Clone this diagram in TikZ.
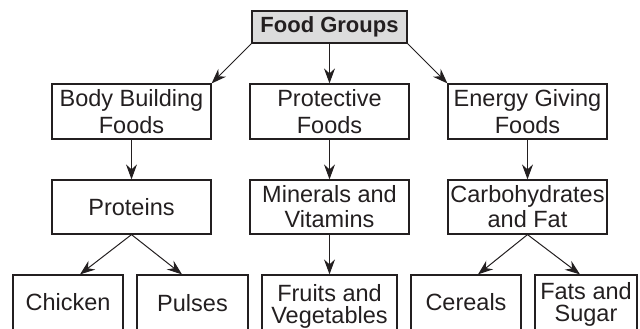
\documentclass[tikz,border=0pt]{standalone}
\usepackage{fontspec}
\setmainfont{Liberation Sans}
\usetikzlibrary{arrows.meta}
\definecolor{ink}{HTML}{231F20}
\definecolor{boxgray}{HTML}{DCDCDC}
\begin{document}
\begin{tikzpicture}[x=1pt,y=-1pt,
  box/.style={draw=ink, line width=1.2pt, rectangle, inner sep=0pt, align=center, text=ink},
  lvtwo/.style={box, minimum width=159pt, minimum height=55pt, font=\fontsize{23.5}{27}\selectfont},
  lvthree/.style={box, minimum width=159pt, minimum height=54pt, font=\fontsize{23.5}{25}\selectfont},
  lvfour/.style={box, minimum height=70pt},
  lbl/.style={inner sep=0pt, align=center, text=ink, anchor=north, font=\fontsize{23.5}{22.5}\selectfont},
  arr/.style={draw=ink, line width=1pt, -{Stealth[length=15pt,width=11pt,inset=5pt]}}
]
\clip (0,0) rectangle (640,329);
\node[box, fill=boxgray, minimum width=155pt, minimum height=32pt, font=\fontsize{22}{26}\selectfont\bfseries] (fg) at (329.5,27) {Food Groups};

\node[lvtwo] (bb) at (131.5,111.5) {Body Building\\Foods};
\node[lvtwo] (pf) at (329.5,111.5) {Protective\\Foods};
\node[lvtwo] (eg) at (527.5,111.5) {Energy Giving\\Foods};

\node[lvthree] (pr) at (131.5,207) {Proteins};
\node[lvthree] (mv) at (329.5,207) {Minerals and\\Vitamins};
\node[lvthree] (cf) at (527.5,207) {Carbohydrates\\and Fat};

\node[lvfour, minimum width=110pt] (ch) at (68,310) {};
\node[lvfour, minimum width=111pt] (pu) at (192.5,310) {};
\node[lvfour, minimum width=135pt] (fv) at (329.5,310) {};
\node[lvfour, minimum width=110pt] (ce) at (466,310) {};
\node[lvfour, minimum width=102pt] (fs) at (586,310) {};

\node[lbl] (tch) at (68,293) {Chicken};
\node[lbl] (tpu) at (192.5,294) {Pulses};
\node[lbl] (tfv) at (329.5,284) {Fruits and\\Vegetables};
\node[lbl] (tce) at (466,293) {Cereals};
\node[lbl] (tfs) at (586,282) {Fats and\\Sugar};

\draw[arr] (fg.south west) -- (bb.north east);
\draw[arr] (fg.south) -- (pf.north);
\draw[arr] (fg.south east) -- (eg.north west);

\draw[arr] (bb.south) -- (pr.north);
\draw[arr] (pf.south) -- (mv.north);
\draw[arr] (eg.south) -- (cf.north);

\draw[arr] (pr.south) -- ([xshift=12pt]ch.north);
\draw[arr] (pr.south) -- ([xshift=-10.5pt]pu.north);
\draw[arr] (mv.south) -- (fv.north);
\draw[arr] (cf.south) -- ([xshift=12pt]ce.north);
\draw[arr] (cf.south) -- ([xshift=-6pt]fs.north);
\end{tikzpicture}
\end{document}
